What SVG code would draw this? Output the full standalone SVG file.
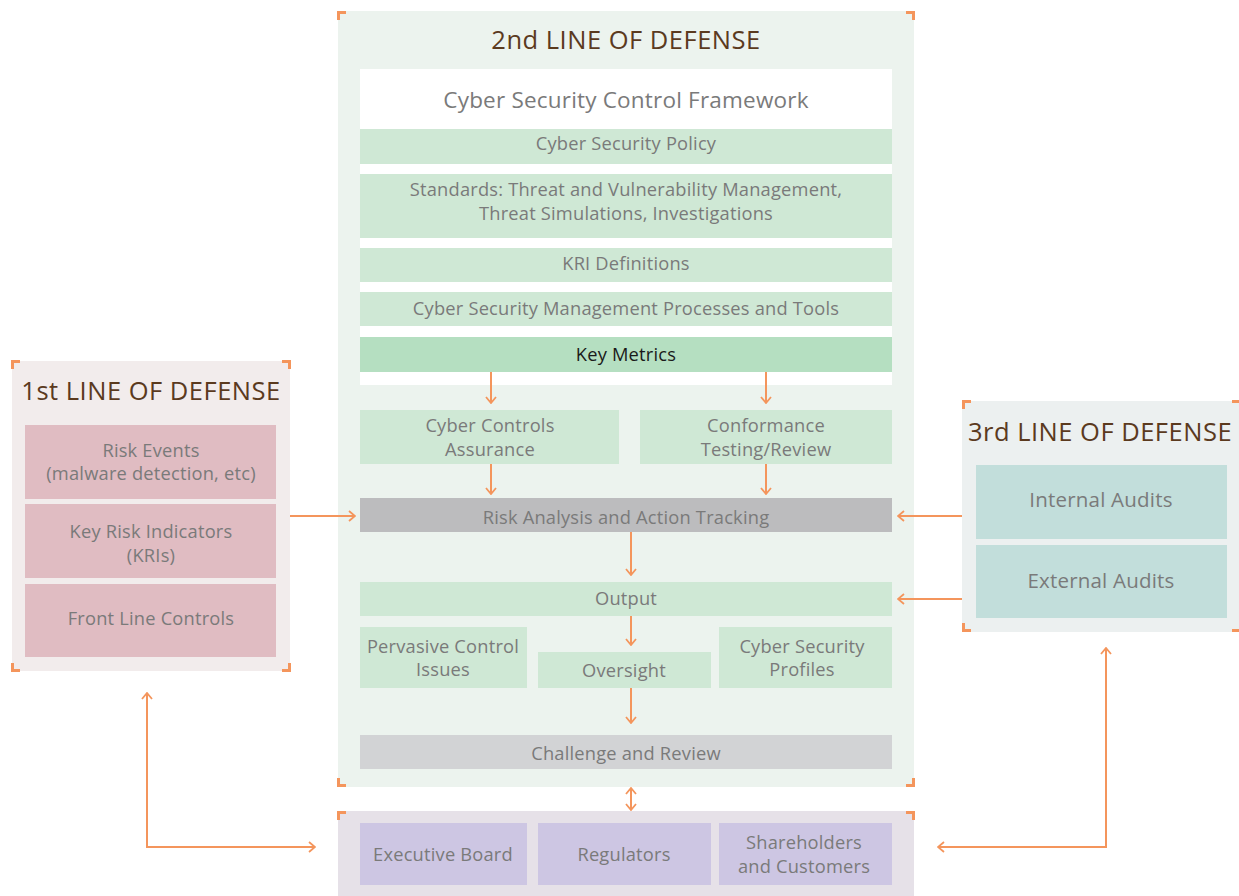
<svg xmlns="http://www.w3.org/2000/svg" width="1239" height="896" viewBox="0 0 1239 896">
<defs>
<marker id="ah" viewBox="0 0 12 12" refX="11" refY="6" markerWidth="12" markerHeight="12" markerUnits="userSpaceOnUse" orient="auto-start-reverse">
<path d="M5,1 L11,6 L5,11" fill="none" stroke="#f4955c" stroke-width="1.8"/>
</marker>
<style>
.t{font-family:"Open Sans",Lato,"Liberation Sans",sans-serif;font-size:18.3px;letter-spacing:0.2px;fill:#7a7a7a;text-anchor:middle}
.h{font-family:"Open Sans",Lato,"Liberation Sans",sans-serif;font-size:25.5px;letter-spacing:0.5px;fill:#5b3a1e;text-anchor:middle}
.g{fill:#cfe8d5}
.br{fill:none;stroke:#f4955c;stroke-width:3}
.c{fill:none;stroke:#f4955c;stroke-width:2;marker-end:url(#ah)}
.d{fill:none;stroke:#f4955c;stroke-width:2;marker-start:url(#ah);marker-end:url(#ah)}
</style>
</defs>
<rect width="1239" height="896" fill="#ffffff"/>

<g id="second-line">
<rect x="338" y="11" width="576" height="776" fill="#ecf3ee"/>
<path class="br" d="M338.5,20 V12.5 H346 M906,12.5 H913.5 V20 M338.5,778 V785.5 H346 M906,785.5 H913.5 V778"/>
<text class="h" x="626" y="49">2nd LINE OF DEFENSE</text>
<rect x="360" y="69" width="532" height="316" fill="#ffffff"/>
<text class="t" x="626" y="108" style="font-size:22.5px">Cyber Security Control Framework</text>
</g>
<g id="policy"><rect class="g" x="360" y="129" width="532" height="35"/><text class="t" x="626" y="150">Cyber Security Policy</text></g>
<g id="standards"><rect class="g" x="360" y="174" width="532" height="64"/><text class="t" x="626" y="196">Standards: Threat and Vulnerability Management,</text><text class="t" x="626" y="220">Threat Simulations, Investigations</text></g>
<g id="kri-def"><rect class="g" x="360" y="248" width="532" height="34"/><text class="t" x="626" y="270">KRI Definitions</text></g>
<g id="mgmt"><rect class="g" x="360" y="292" width="532" height="34"/><text class="t" x="626" y="315">Cyber Security Management Processes and Tools</text></g>
<g id="key-metrics"><rect x="360" y="337" width="532" height="35" fill="#b5dfc1"/><text class="t" x="626" y="361" style="fill:#1a1a1a">Key Metrics</text></g>
<g id="cca"><rect class="g" x="360" y="410" width="259" height="54"/><text class="t" x="490" y="432">Cyber Controls</text><text class="t" x="490" y="456">Assurance</text></g>
<g id="ctr"><rect class="g" x="640" y="410" width="252" height="54"/><text class="t" x="766" y="432">Conformance</text><text class="t" x="766" y="456">Testing/Review</text></g>
<g id="risk-analysis"><rect x="360" y="498" width="532" height="34" fill="#bcbcbe"/><text class="t" x="626" y="524">Risk Analysis and Action Tracking</text></g>
<g id="output"><rect class="g" x="360" y="582" width="532" height="34"/><text class="t" x="626" y="605">Output</text></g>
<g id="pervasive"><rect class="g" x="360" y="627" width="167" height="61"/><text class="t" x="443" y="653">Pervasive Control</text><text class="t" x="443" y="676">Issues</text></g>
<g id="oversight"><rect class="g" x="538" y="652" width="173" height="36"/><text class="t" x="624" y="677">Oversight</text></g>
<g id="profiles"><rect class="g" x="719" y="627" width="173" height="61"/><text class="t" x="802" y="653">Cyber Security</text><text class="t" x="802" y="676">Profiles</text></g>
<g id="challenge"><rect x="360" y="735" width="532" height="34" fill="#d2d3d5"/><text class="t" x="626" y="760">Challenge and Review</text></g>

<g id="stakeholders">
<rect x="338" y="811" width="576" height="90" fill="#e6e1e8"/>
<path class="br" d="M338.5,820 V812.5 H346 M906,812.5 H913.5 V820"/>
</g>
<g id="exec"><rect x="360" y="823" width="167" height="62" fill="#cdc6e3"/><text class="t" x="443" y="861">Executive Board</text></g>
<g id="regulators"><rect x="538" y="823" width="173" height="62" fill="#cdc6e3"/><text class="t" x="624" y="861">Regulators</text></g>
<g id="shareholders"><rect x="719" y="823" width="173" height="62" fill="#cdc6e3"/><text class="t" x="804" y="849">Shareholders</text><text class="t" x="804" y="873">and Customers</text></g>

<g id="first-line">
<rect x="12" y="361" width="278" height="310" fill="#f2ecec"/>
<path class="br" d="M12.5,369 V361.5 H20 M282,361.5 H289.5 V369 M12.5,663 V670.5 H20 M282,670.5 H289.5 V663"/>
<text class="h" x="151" y="400">1st LINE OF DEFENSE</text>
</g>
<g id="risk-events"><rect x="25" y="425" width="251" height="74" fill="#e0bcc2"/><text class="t" x="151" y="457">Risk Events</text><text class="t" x="151" y="480">(malware detection, etc)</text></g>
<g id="kris"><rect x="25" y="504" width="251" height="74" fill="#e0bcc2"/><text class="t" x="151" y="538">Key Risk Indicators</text><text class="t" x="151" y="562">(KRIs)</text></g>
<g id="front-line"><rect x="25" y="584" width="251" height="73" fill="#e0bcc2"/><text class="t" x="151" y="625">Front Line Controls</text></g>

<g id="third-line">
<rect x="962" y="401" width="277" height="231" fill="#ecf0f0"/>
<path class="br" d="M963.5,409 V401.5 H971 M1232,401.5 H1239 M963.5,623 V630.5 H971 M1232,630.5 H1239"/>
<text class="h" x="1100" y="441">3rd LINE OF DEFENSE</text>
</g>
<g id="internal"><rect x="976" y="465" width="251" height="74" fill="#c2dedb"/><text class="t" x="1101" y="507" style="font-size:20.5px">Internal Audits</text></g>
<g id="external"><rect x="976" y="545" width="251" height="73" fill="#c2dedb"/><text class="t" x="1101" y="588" style="font-size:20.5px">External Audits</text></g>

<g id="connectors">
<path class="c" d="M491,372 V403"/>
<path class="c" d="M766,372 V403"/>
<path class="c" d="M491,464 V494"/>
<path class="c" d="M766,464 V494"/>
<path class="c" d="M631,532 V575"/>
<path class="c" d="M631,616 V645"/>
<path class="c" d="M631,688 V723"/>
<path class="d" d="M631,788 V810"/>
<path class="c" d="M290,516 H355"/>
<path class="c" d="M962,516 H898"/>
<path class="c" d="M962,599 H898"/>
<path class="d" d="M147,693 V847 H315"/>
<path class="d" d="M1106,648 V847 H938"/>
</g>
</svg>
